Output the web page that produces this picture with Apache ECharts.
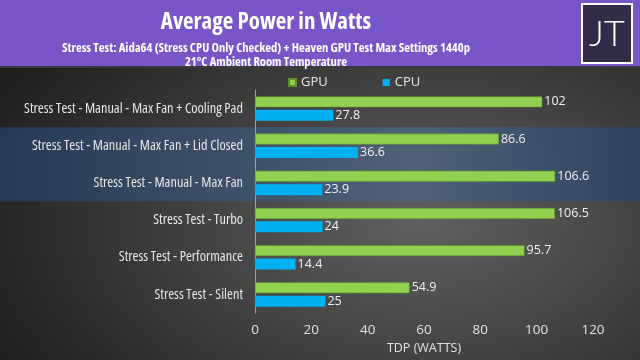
<!DOCTYPE html>
<html><head><meta charset="utf-8">
<script src="https://cdn.jsdelivr.net/npm/echarts@6/dist/echarts.min.js"></script>
<style>
html,body{margin:0;padding:0;}
#c{width:640px;height:360px;background:radial-gradient(ellipse 75% 80% at 66% 62%, #606060 0%, #474747 40%, #282828 85%, #1f1f1f 100%);}
</style></head><body>
<div id="c"></div>
<script>
const categories = [
  'Stress Test - Manual - Max Fan + Cooling Pad',
  'Stress Test - Manual - Max Fan + Lid Closed',
  'Stress Test - Manual - Max Fan',
  'Stress Test - Turbo',
  'Stress Test - Performance',
  'Stress Test - Silent'
];
const gpuValues = [102, 86.6, 106.6, 106.5, 95.7, 54.9];
const cpuValues = [27.8, 36.6, 23.9, 24, 14.4, 25];
const xTicks = [0, 20, 40, 60, 80, 100, 120];
const highlighted = ['Stress Test - Manual - Max Fan + Lid Closed', 'Stress Test - Manual - Max Fan'];

const FONT = "'Open Sans'";
const ST = 'condensed';
const chart = echarts.init(document.getElementById('c'), null, {renderer: 'canvas'});
const option = {
  backgroundColor: 'transparent',
  animation: false,
  title: [
    {text: 'Average Power in Watts', left: 261, top: 6, textAlign: 'center',
     textStyle: {color: '#ffffff', fontFamily: FONT, fontStyle: ST, fontWeight: 'bold', fontSize: 23}},
    {text: 'Stress Test: Aida64 (Stress CPU Only Checked) + Heaven GPU Test Max Settings 1440p', left: 261, top: 37, textAlign: 'center',
     textStyle: {color: '#ffffff', fontFamily: FONT, fontStyle: ST, fontWeight: 'bold', fontSize: 12.6}},
    {text: '21°C Ambient Room Temperature', left: 261, top: 51, textAlign: 'center',
     textStyle: {color: '#ffffff', fontFamily: FONT, fontStyle: ST, fontWeight: 'bold', fontSize: 12.6}}
  ],
  legend: {
    data: ['GPU', 'CPU'], top: 71, left: 283, itemWidth: 7, itemHeight: 7, itemGap: 55,
    icon: 'rect',
    textStyle: {color: '#e6e6e6', fontFamily: FONT, fontSize: 13}
  },
  grid: {left: 255, right: 47, top: 90, bottom: 45, containLabel: false},
  xAxis: {
    type: 'value', min: 0, max: 120, interval: 20,
    name: 'TDP (WATTS)', nameLocation: 'middle', nameGap: 28,
    nameTextStyle: {color: '#e0e0e0', fontFamily: FONT, fontSize: 12.5},
    axisLine: {show: false}, axisTick: {show: false}, splitLine: {show: false},
    axisLabel: {color: '#e0e0e0', fontFamily: FONT, fontSize: 13.5, margin: 10,
      formatter: v => xTicks.includes(v) ? String(v) : ''}
  },
  yAxis: {
    type: 'category', data: categories, inverse: true,
    axisLine: {show: true, lineStyle: {color: '#a0a0a0', width: 1}},
    axisTick: {show: false},
    axisLabel: {color: '#e6e6e6', fontFamily: FONT, fontStyle: ST, fontSize: 14.3, margin: 12}
  },
  series: [
    {name: 'GPU', type: 'bar', data: gpuValues, barWidth: 11, barGap: '22%',
     itemStyle: {color: '#92d050', borderColor: '#5f8f2a', borderWidth: 0.6},
     label: {show: true, position: 'right', distance: 2, color: '#f0f0f0', fontFamily: FONT, fontSize: 12.5}},
    {name: 'CPU', type: 'bar', data: cpuValues, barWidth: 11,
     itemStyle: {color: '#00b0f0'},
     label: {show: true, position: 'right', distance: 2, color: '#f0f0f0', fontFamily: FONT, fontSize: 12.5}}
  ]
};
chart.setOption(option);

// Decorations: header band, logo, highlighted row band
const c0 = chart.convertToPixel({yAxisIndex: 0}, highlighted[0]);
const c1 = chart.convertToPixel({yAxisIndex: 0}, highlighted[1]);
const step = Math.abs(c1 - c0);
const bandTop = Math.min(c0, c1) - step / 2;
const bandH = step * highlighted.length;
chart.setOption({
  graphic: [
    {type: 'rect', z: -10, silent: true, shape: {x: 0, y: bandTop, width: 640, height: bandH},
     style: {fill: new echarts.graphic.LinearGradient(0, 0, 1, 0, [
       {offset: 0, color: 'rgba(38,60,86,0.95)'},
       {offset: 0.65, color: 'rgba(80,98,122,0.95)'},
       {offset: 1, color: 'rgba(46,68,96,0.95)'}])}},
    {type: 'rect', z: -5, silent: true, shape: {x: 0, y: 0, width: 640, height: 67},
     style: {fill: '#7a55c7'}},
    {type: 'rect', z: -5, silent: true, shape: {x: 0, y: 66, width: 640, height: 2},
     style: {fill: '#3a3a3a'}},
    {type: 'rect', z: 5, silent: true, shape: {x: 582, y: 4, width: 50, height: 59},
     style: {fill: '#332c48', stroke: '#ffffff', lineWidth: 2}},
    {type: 'text', z: 6, silent: true, x: 607, y: 34,
     style: {text: 'JT', fill: '#ffffff', font: '300 36px Lato', align: 'center', verticalAlign: 'middle'}}
  ]
});
</script></body></html>
